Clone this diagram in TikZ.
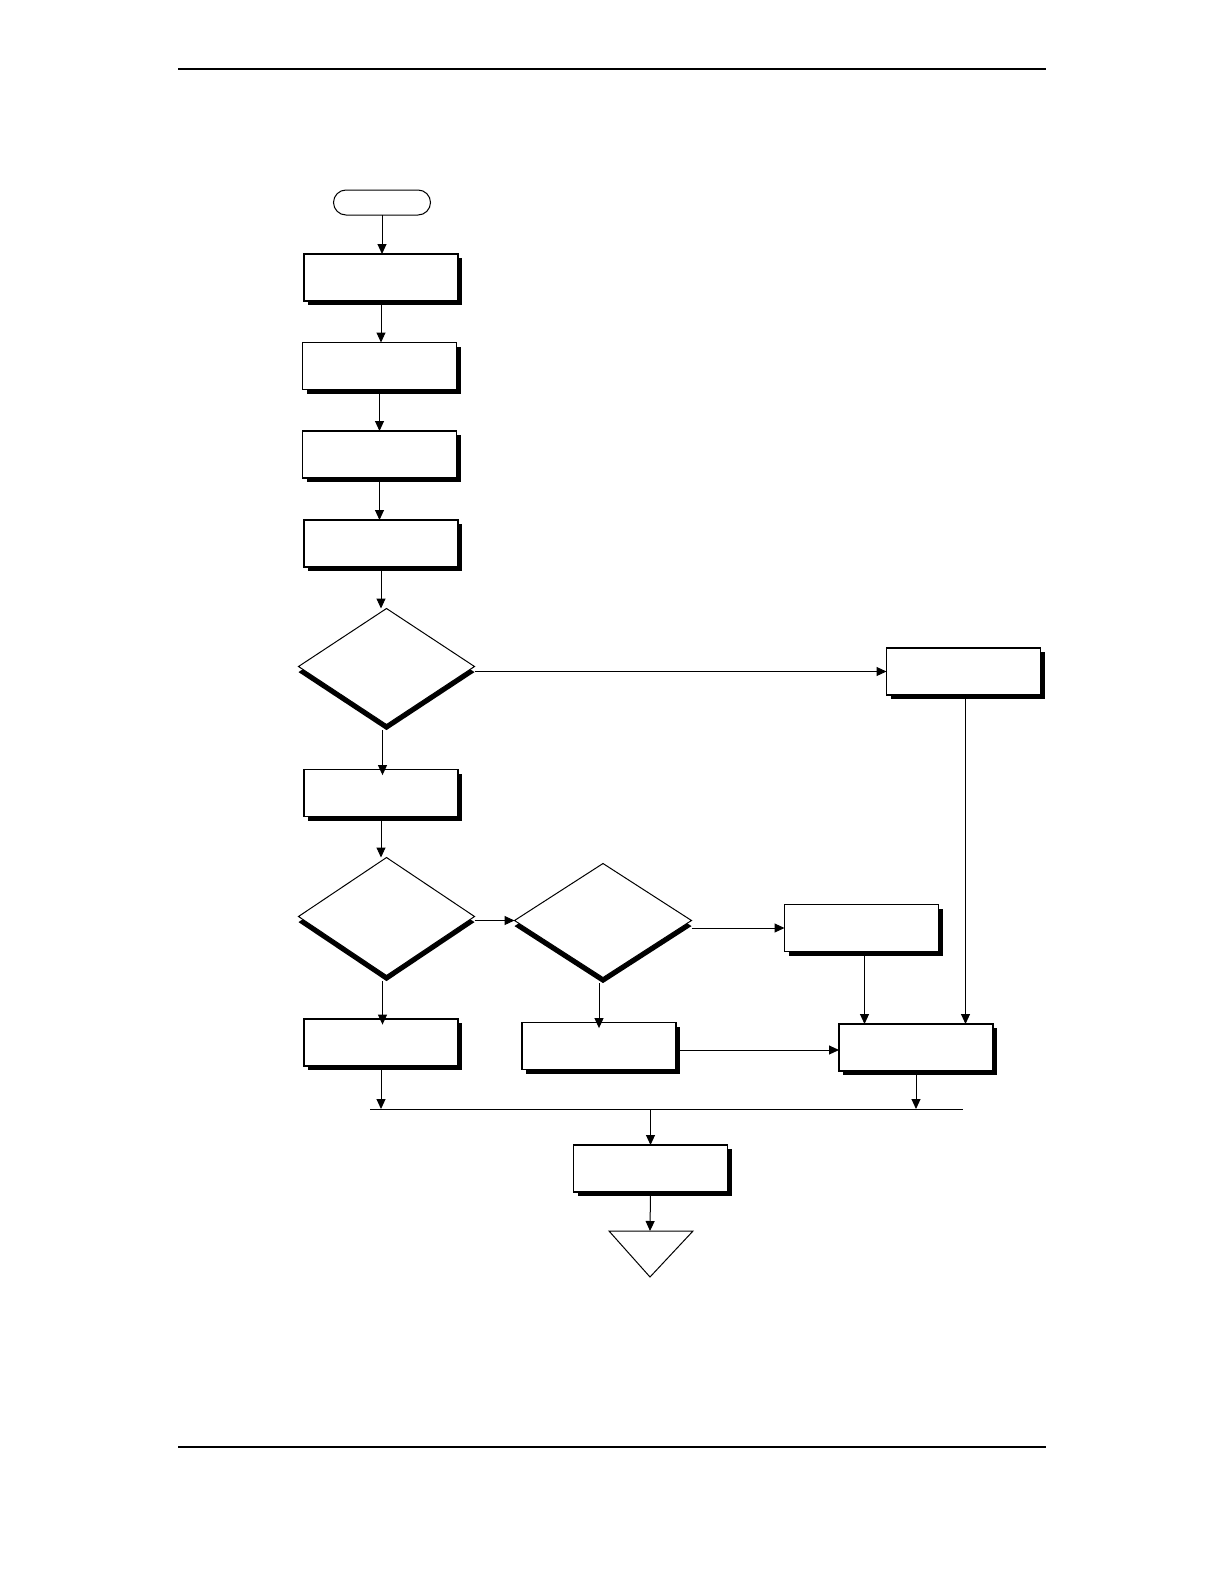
\documentclass[tikz,border=0pt]{standalone}
\usetikzlibrary{arrows.meta,shapes.geometric,shadows}
\begin{document}
\begin{tikzpicture}[x=0.5pt,y=-0.5pt,
  box/.style={draw,line width=0.6pt,fill=white,minimum width=77pt,minimum height=23.5pt,inner sep=0pt,outer sep=0pt,
    drop shadow={shadow xshift=2pt,shadow yshift=-2.2pt,fill=black,opacity=1}},
  dec/.style={diamond,draw,line width=0.5pt,fill=white,inner sep=0pt,outer sep=0pt,aspect=1.5,
    drop shadow={shadow xshift=0pt,shadow yshift=-2.8pt,fill=black,opacity=1}},
  term/.style={draw,line width=0.5pt,rounded corners=6.25pt,minimum width=48.5pt,minimum height=12.5pt,inner sep=0pt,outer sep=0pt},
  arr/.style={line width=0.5pt,-{Triangle[length=5pt,width=4.5pt]}},
  rule/.style={line width=0.75pt}]
\useasboundingbox (0,0) rectangle (1224,1584);
% page rules
\coordinate (tl) at (178,69);
\coordinate (tr) at (1046,69);
\coordinate (bl) at (178,1447);
\coordinate (br) at (1046,1447);
\draw[rule] (tl) -- (tr);
\draw[rule] (bl) -- (br);
% nodes
\node[term] (start) at (382,202.5) {};
\node[box] (b1) at (381,277.5) {};
\node[box] (b2) at (379.5,366) {};
\node[box] (b3) at (379.5,454.5) {};
\node[box] (b4) at (381,543.5) {};
\node[dec,minimum width=88pt,minimum height=58pt] (d1) at (386.5,666.5) {};
\node[box] (r1) at (963.5,671.5) {};
\node[box] (b5) at (381,793) {};
\node[dec,minimum width=88pt,minimum height=59pt] (d2) at (386.5,916.5) {};
\node[dec,minimum width=88.5pt,minimum height=57pt] (d3) at (603,920.5) {};
\node[box] (r2) at (861.5,928) {};
\node[box] (b6) at (381,1042.5) {};
\node[box] (b7) at (599,1046) {};
\node[box] (b8) at (916,1047.5) {};
\node[box] (b9) at (650.5,1168.5) {};
% bus line
\coordinate (busL) at (370,1109);
\coordinate (busR) at (963,1109);
\draw[line width=0.5pt] (busL) -- (busR);
% end triangle
\coordinate (triL) at (609,1231);
\coordinate (triR) at (693,1231);
\coordinate (triB) at (650,1277);
\coordinate (tri) at (650,1231);
\draw[line width=0.5pt] (triL) -- (triR) -- (triB) -- cycle;
% connectors
\draw[arr] (start.south) -- (start.south |- b1.north);
\draw[arr] (b1.south) -- (b1.south |- b2.north);
\draw[arr] (b2.south) -- (b2.south |- b3.north);
\draw[arr] (b3.south) -- (b3.south |- b4.north);
\draw[arr] (b4.south) -- (b4.south |- d1.north);
\draw[arr] (d1.east |- r1.west) -- (r1.west);
\draw[arr] ([xshift=-2pt,yshift=-2.8pt]d1.south) -- ([xshift=-2pt,yshift=-2.8pt]d1.south |- b5.north);
\draw[arr] (b5.south) -- (b5.south |- d2.north);
\draw[arr] (d2.east |- d3.west) -- (d3.west);
\draw[arr] (d3.east |- r2.west) -- (r2.west);
\draw[arr] ([xshift=-2pt,yshift=-2.8pt]d2.south) -- ([xshift=-2pt,yshift=-2.8pt]d2.south |- b6.north);
\draw[arr] ([xshift=-2pt,yshift=-2.8pt]d3.south) -- ([xshift=-2pt,yshift=-2.8pt]d3.south |- b7.north);
\draw[arr] ([xshift=1.5pt]r2.south) -- ([xshift=1.5pt]r2.south |- b8.north);
\draw[arr] ([xshift=1pt]r1.south) -- ([xshift=1pt]r1.south |- b8.north);
\draw[arr] ([yshift=-2pt]b7.east) -- ([yshift=-2pt]b7.east -| b8.west);
\draw[arr] (b6.south) -- (b6.south |- busL);
\draw[arr] (b8.south) -- (b8.south |- busR);
\draw[arr] (b9.north |- busL) -- (b9.north);
\draw[arr] (b9.south) -- (tri);
\end{tikzpicture}
\end{document}
